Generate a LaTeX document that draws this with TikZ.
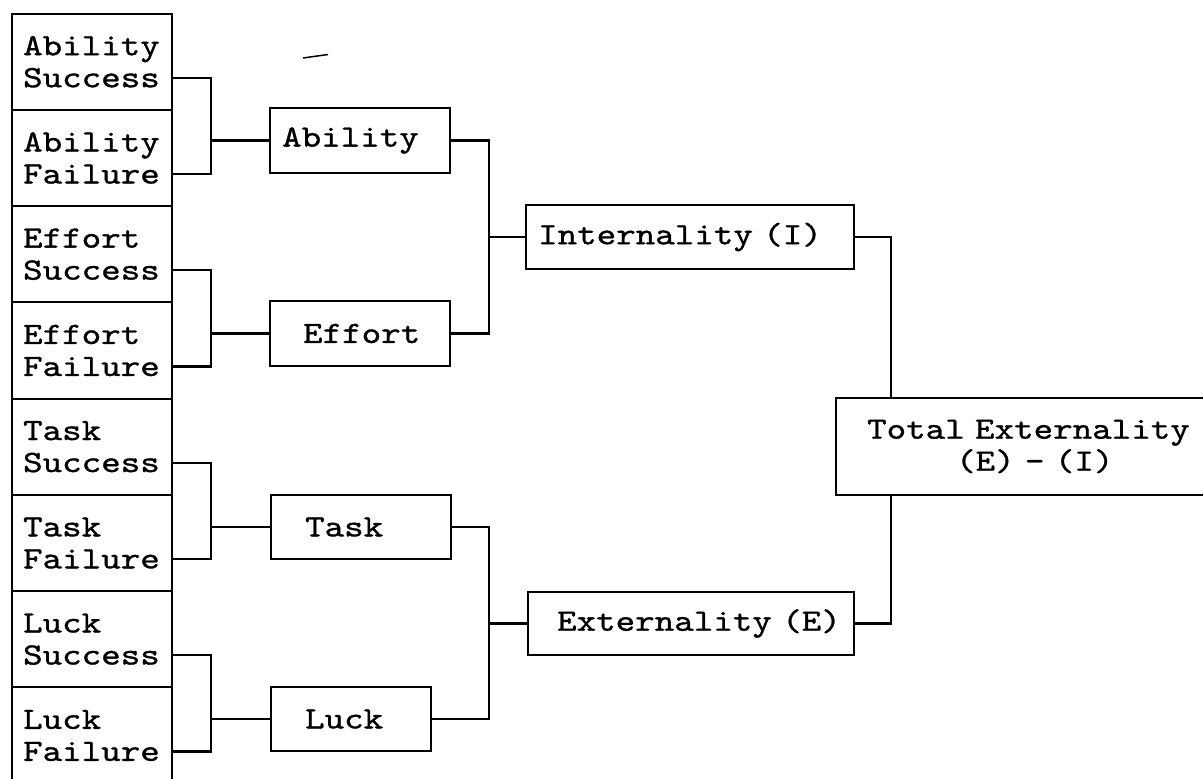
\documentclass[tikz,border=0pt]{standalone}
\usepackage{fontspec}
\setmonofont{lmmono10-regular}[Extension=.otf, FakeStretch=1.2, FakeBold=1]
\DeclareRobustCommand\diagfont{\ttfamily\fontsize{31}{32}\selectfont}
\begin{document}
\begin{tikzpicture}[x=1pt,y=-1pt,
  txt/.style={font=\diagfont},
  leaf/.style={txt, draw, line width=2.2pt, rectangle, anchor=north west,
    minimum height=96.25pt, inner xsep=11pt, inner ysep=0pt, text width=138pt, align=left},
  box/.style={txt, draw, line width=2.2pt, rectangle, anchor=west,
    inner xsep=12pt, inner ysep=0pt, align=left},
  conn/.style={line width=2.2pt}
]
\useasboundingbox (0,0) rectangle (1203,779);

% left column
\node[leaf] (as) at (11,12.5)   {Ability\\Success};
\node[leaf] (af) at (11,108.75) {Ability\\Failure};
\node[leaf] (es) at (11,205)    {Effort\\Success};
\node[leaf] (ef) at (11,301.25) {Effort\\Failure};
\node[leaf] (ts) at (11,397.5)  {Task\\Success};
\node[leaf] (tf) at (11,493.75) {Task\\Failure};
\node[leaf] (ls) at (11,590)    {Luck\\Success};
\node[leaf] (lf) at (11,686.25) {Luck\\Failure};

% middle column
\node[box, minimum height=65pt, text width=156pt] (ab) at (269,140.5) {Ability};
\node[box, minimum height=65pt, text width=156pt] (eb) at (269,333.5) {\hspace*{21pt}Effort};
\node[box, minimum height=64pt, text width=156pt] (tb) at (270,527) {\hspace*{22pt}Task};
\node[box, minimum height=64pt, text width=136pt] (lb) at (270,719) {\hspace*{22pt}Luck};

% third column
\node[box, minimum height=64pt, text width=304pt] (int) at (525,237) {Internality (I)};
\node[box, minimum height=63pt, text width=302pt] (ext) at (527,623.5) {\hspace*{17pt}Externality (E)};

% total
\node[box, minimum height=97pt, text width=351pt] (tot) at (835,446.5)
  {\hspace*{19pt}Total Externality\\\hspace*{108pt}(E) - (I)};

% joints
\coordinate (j1) at (211,140.5);
\coordinate (j2) at (211,333.5);
\coordinate (j3) at (211,527);
\coordinate (j4) at (211,719);
\coordinate (j5) at (489,237);
\coordinate (j6) at (489,623.5);
\coordinate (jt) at (891,0);

% connectors
\draw[conn] ([yshift=-16pt]as.east) -| (j1) |- ([yshift=-16pt]af.east);
\draw[conn] (j1) -- (ab.west);
\draw[conn] ([yshift=-16pt]es.east) -| (j2) |- ([yshift=-16pt]ef.east);
\draw[conn] (j2) -- (eb.west);
\draw[conn] ([yshift=-16pt]ts.east) -| (j3) |- ([yshift=-16pt]tf.east);
\draw[conn] (j3) -- (tb.west);
\draw[conn] ([yshift=-16pt]ls.east) -| (j4) |- ([yshift=-16pt]lf.east);
\draw[conn] (j4) -- (lb.west);

\draw[conn] (ab.east) -| (j5) |- (eb.east);
\draw[conn] (j5) -- (int.west);
\draw[conn] (tb.east) -| (j6) |- (lb.east);
\draw[conn] (j6) -- (ext.west);

\draw[conn] (int.east) -| (jt |- tot.north);
\draw[conn] (ext.east) -| (jt |- tot.south);

% stray mark
\draw[line width=1.5pt] (303,58) -- (328,54.5);
\end{tikzpicture}
\end{document}
